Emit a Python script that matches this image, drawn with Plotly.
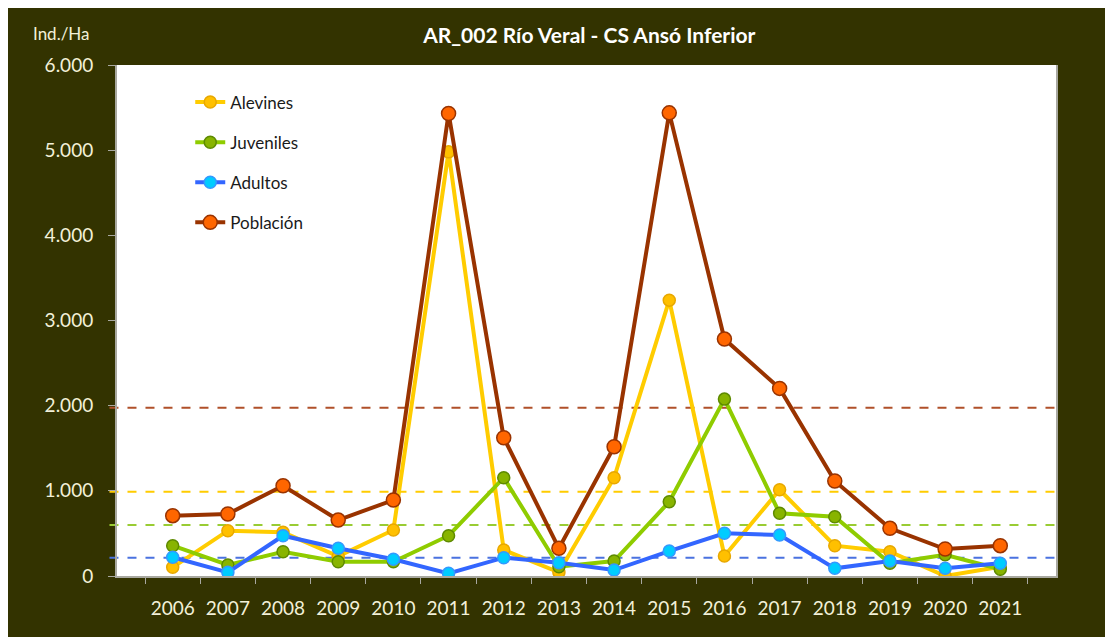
import plotly.graph_objects as go

years = ["2006", "2007", "2008", "2009", "2010", "2011", "2012", "2013",
         "2014", "2015", "2016", "2017", "2018", "2019", "2020", "2021"]
alevines = [102, 532, 513, 230, 540, 4980, 305, 43, 1154, 3239, 235, 1013, 356, 285, 0, 109]
juveniles = [356, 129, 285, 168, 168, 473, 1154, 109, 176, 872, 2077, 736, 696, 149, 250, 79]
adultos = [220, 43, 473, 325, 196, 31, 215, 156, 70, 293, 501, 481, 90, 176, 90, 149]
poblacion = [708, 728, 1060, 657, 892, 5431, 1623, 325, 1518, 5438, 2782, 2203, 1115, 560, 317, 356]

# reference (dashed) levels
ref_names = ["Población", "Alevines", "Juveniles", "Adultos"]
ref_values = [1975, 990, 600, 215]
ref_colors = ["#b0502a", "#ffcc00", "#99cc33", "#4a72e0"]

series = [
    ("Alevines", alevines, "#ffcc00", "#ffc000", "#e8a800", 12),
    ("Juveniles", juveniles, "#8fcc00", "#88b400", "#5e8a00", 12),
    ("Adultos", adultos, "#3366ff", "#00ccff", "#3399ff", 12),
    ("Población", poblacion, "#993300", "#ff6600", "#993300", 14),
]

BG = "#333300"
TXT = "#f2f0d8"
FONT = "Lato, 'Open Sans', sans-serif"

fig = go.Figure()
for i, (name, vals, lc, mc, ml, ms) in enumerate(series):
    fig.add_trace(go.Scatter(
        x=years, y=vals, name=name, mode="lines+markers",
        legendgroup=f"g{i}",
        line=dict(color=lc, width=4),
        marker=dict(size=ms, color=mc, line=dict(color=ml, width=1.5)),
    ))

for v, c in zip(ref_values, ref_colors):
    fig.add_shape(type="line", xref="paper", yref="y", x0=-0.008, x1=1.006,
                  y0=v, y1=v, line=dict(color=c, width=2, dash="dash"),
                  layer="below")

fig.add_annotation(text="Ind./Ha", xref="paper", yref="paper", x=-0.0586, y=1.0626,
                   showarrow=False, xanchor="center", yanchor="middle",
                   font=dict(family=FONT, size=17, color=TXT))

fig.update_layout(
    width=1113, height=637,
    paper_bgcolor=BG, plot_bgcolor="white",
    margin=dict(l=109, r=65, t=57, b=69),
    separators=",.",
    title=dict(text="<b>AR_002 Río Veral - CS Ansó Inferior</b>",
               xref="paper", x=0.503, xanchor="center", y=0.956, yanchor="middle",
               font=dict(family=FONT, size=21, color="#ffffff")),
    font=dict(family=FONT),
    legend=dict(x=0.078, y=0.9618, xanchor="left", yanchor="top",
                bgcolor="rgba(0,0,0,0)", tracegroupgap=15,
                font=dict(family=FONT, size=17, color="#1a1a1a")),
    xaxis=dict(type="category", showgrid=False, showline=True, linecolor="#a8a8a0",
               linewidth=2, ticks="outside", tickson="boundaries", ticklen=6,
               tickcolor="#a8a8a0", ticklabelstandoff=14,
               tickfont=dict(family=FONT, size=19, color=TXT)),
    yaxis=dict(range=[0, 6000], dtick=1000, tickformat=",d", showgrid=False,
               zeroline=False, showline=True, mirror=True, linecolor="#a8a8a0",
               linewidth=2, ticks="outside", ticklen=7, tickcolor="#a8a8a0",
               ticklabelstandoff=11,
               tickfont=dict(family=FONT, size=19, color=TXT)),
)

fig.write_html("out.html")
